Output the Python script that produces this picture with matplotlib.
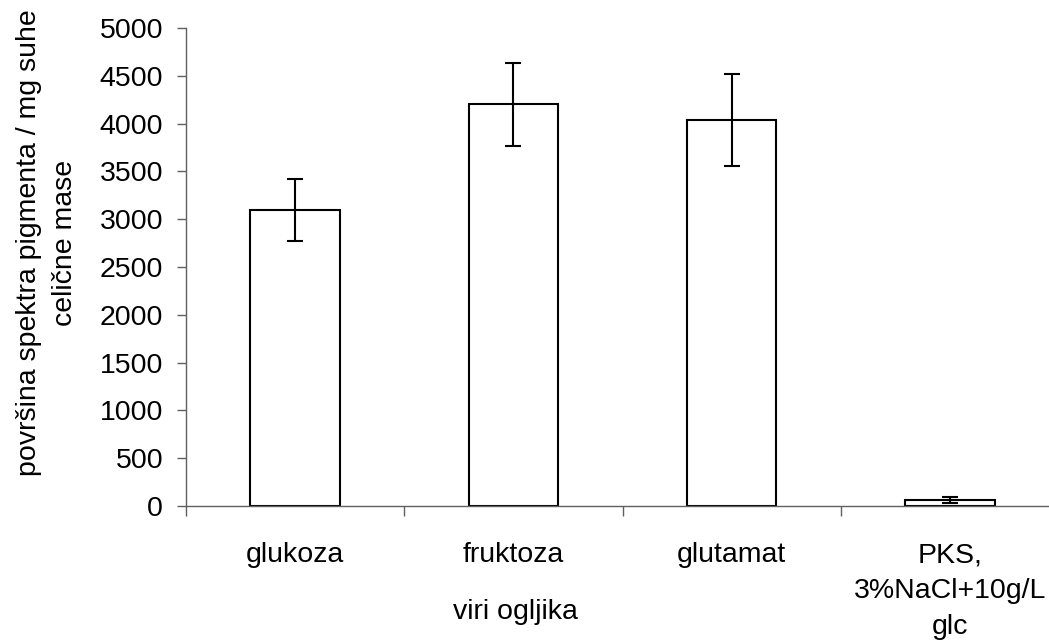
import numpy as np
import matplotlib.pyplot as plt

plt.rcParams['font.family'] = ['Liberation Sans', 'DejaVu Sans']

# viri ogljika in povprecna povrsina spektra
kategorije = ['glukoza', 'fruktoza', 'glutamat', 'PKS,\n3%NaCl+10g/L\nglc']
vrednosti = [3100, 4200, 4040, 65]
napake = [325, 430, 480, 30]
y_ticks = list(range(0, 5001, 500))

fig = plt.figure(figsize=(10.49, 6.42), dpi=100)
ax = fig.add_axes([186/1049, 136/642, 873/1049, 478/642])

x = np.arange(len(kategorije))
ax.bar(x, vrednosti, width=0.41, color='white', edgecolor='black', linewidth=1.5, zorder=2)
ax.errorbar(x, vrednosti, yerr=napake, fmt='none', ecolor='black',
            elinewidth=1.5, capsize=5.5, capthick=1.5, zorder=3)

ax.set_xlim(-0.5, 3.5)
ax.set_ylim(0, 5000)
ax.set_yticks(y_ticks)
ax.tick_params(axis='y', direction='out', length=6.5, width=1, color='#606060',
               labelsize=20.5, pad=10)

# crtice med kategorijami, napisi na sredini
ax.set_xticks([-0.5, 0.5, 1.5, 2.5, 3.5])
ax.set_xticklabels([])
ax.tick_params(axis='x', which='major', direction='out', length=7.5, width=1, color='#606060')
ax.set_xticks(x, minor=True)
ax.set_xticklabels(kategorije, minor=True, fontsize=20.5, linespacing=1.5)
ax.tick_params(axis='x', which='minor', length=0, pad=26)

for s in ['top', 'right']:
    ax.spines[s].set_visible(False)
for s in ['left', 'bottom']:
    ax.spines[s].set_color('#606060')
    ax.spines[s].set_linewidth(1)

fig.text(47/1049, 1 - 243/642, 'površina spektra pigmenta / mg suhe\ncelične mase',
         rotation=90, ha='center', va='center', multialignment='center',
         fontsize=20.5, linespacing=1.45)
fig.text(515/1049, 1 - 612/642, 'viri ogljika', ha='center', va='center', fontsize=20.5)

fig.savefig('out.png', dpi=100)
